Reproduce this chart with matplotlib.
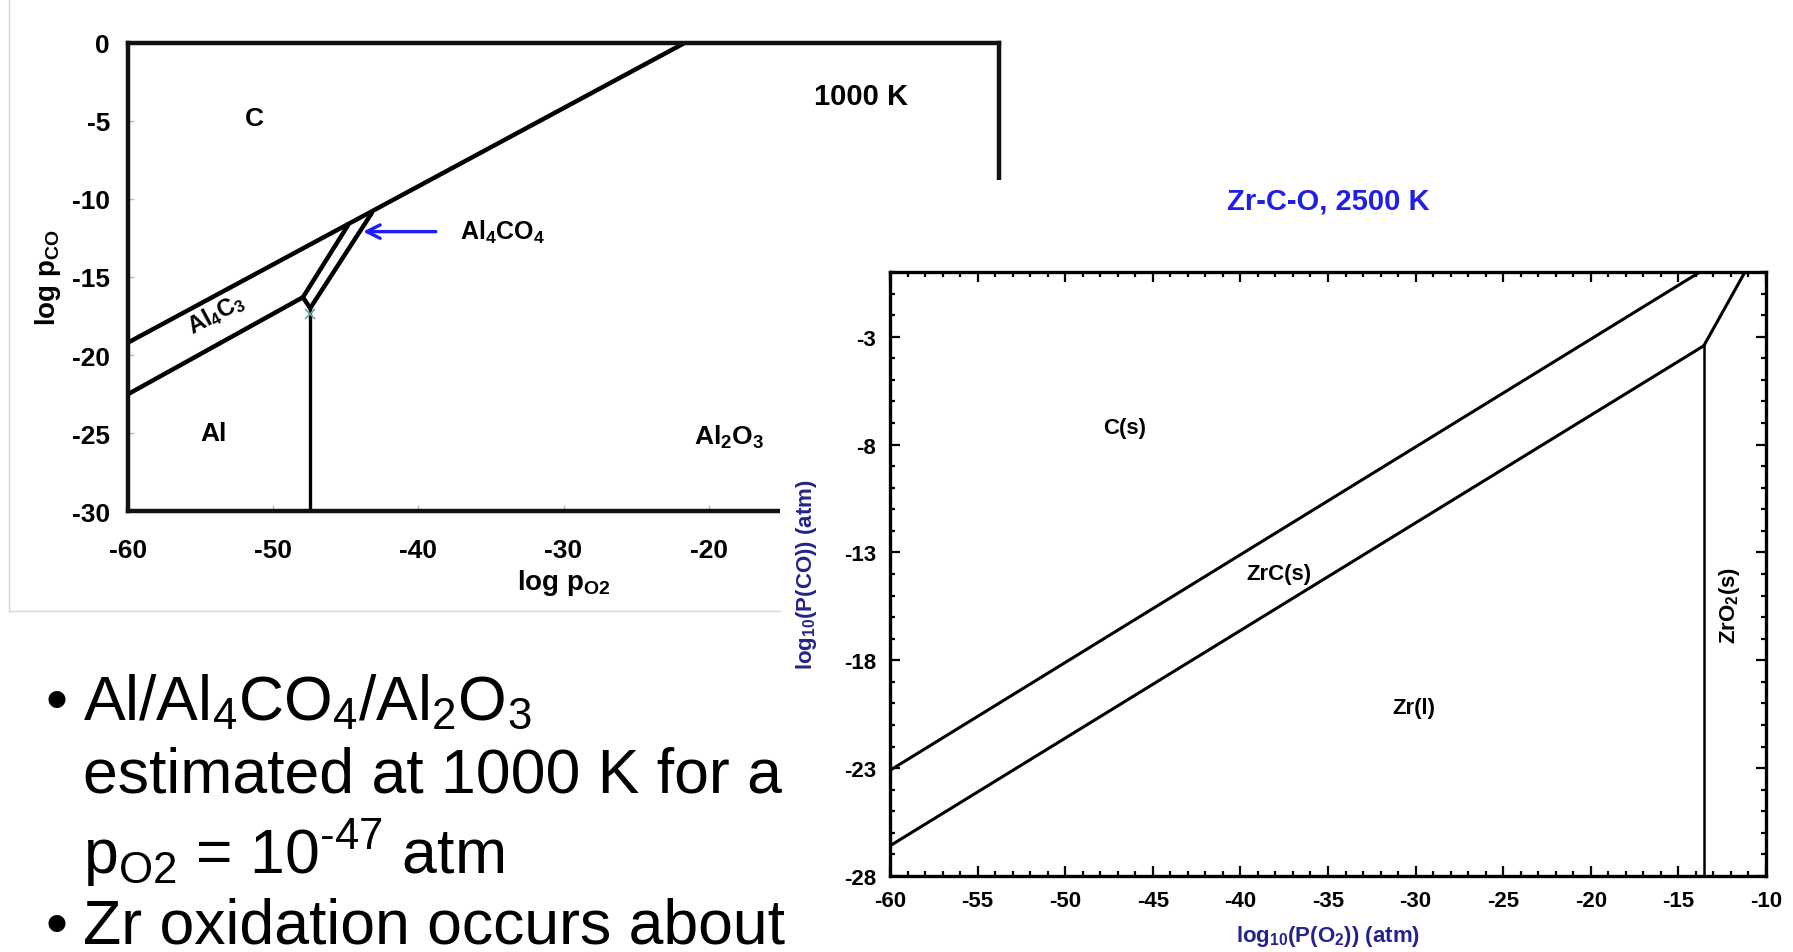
import matplotlib
matplotlib.use("Agg")
import matplotlib.pyplot as plt

# --- left diagram: Al-C-O at 1000 K (log p_O2 vs log p_CO)
al_ticks_x = [-60, -50, -40, -30, -20]
al_ticks_y = [0, -5, -10, -15, -20, -25, -30]
c_al2o3_x = [-60, -21.6]          # C / Al4C3 and C / Al2O3 boundary
c_al2o3_y = [-19.2, 0]
al_al4c3_x = [-60, -47.95]        # Al4C3 / Al boundary
al_al4c3_y = [-22.5, -16.3]
band_left_x = [-47.95, -44.85]    # Al4CO4 band edges
band_left_y = [-16.3, -11.7]
band_right_x = [-47.45, -43.2]
band_right_y = [-17.0, -10.9]
band_foot_x = [-47.95, -47.45]
band_foot_y = [-16.3, -17.0]
al_vert_x = [-47.45, -47.45]      # Al / Al2O3 boundary
al_vert_y = [-17.0, -30]
al_labels = ["C", "Al", "Al$_2$O$_3$"]
al_label_xy = [(-51.3, -4.8), (-54.1, -25.0), (-18.6, -25.2)]

# --- right diagram: Zr-C-O at 2500 K
zr_ticks_x = [-60, -55, -50, -45, -40, -35, -30, -25, -20, -15, -10]
zr_ticks_y = [-3, -8, -13, -18, -23, -28]
zr_upper_x = [-60, -13.77]
zr_upper_y = [-23.1, 0]
zr_lower_x = [-60, -13.55]
zr_lower_y = [-26.6, -3.42]
zr_vert_x = [-13.55, -13.55]
zr_vert_y = [-3.42, -28]
zr_oxide_x = [-13.55, -11.2]
zr_oxide_y = [-3.42, 0]
zr_labels = ["C(s)", "ZrC(s)", "Zr(l)"]
zr_label_xy = [(-46.6, -7.2), (-37.8, -14.0), (-30.1, -20.2)]

W, H = 1793, 953
plt.rcParams["font.family"] = ["Liberation Sans", "DejaVu Sans"]
plt.rcParams["mathtext.default"] = "regular"
plt.rcParams["axes.unicode_minus"] = False


def box(x0, y0, x1, y1):
    # pixel box (top-left origin) -> figure fraction rect
    return [x0 / W, 1 - y1 / H, (x1 - x0) / W, (y1 - y0) / H]


fig = plt.figure(figsize=(W / 100, H / 100), dpi=100)
fig.patch.set_facecolor("white")

# faint border of the pasted left picture
fig.add_artist(plt.Line2D([9 / W, 9 / W], [1, 1 - 612 / H], color="#d8d8d8", lw=1))
fig.add_artist(plt.Line2D([9 / W, 780 / W], [1 - 612 / H, 1 - 612 / H], color="#d8d8d8", lw=1))

fs = 19
ax1 = fig.add_axes(box(128, 43.5, 999, 512.4))
ax1.set_xlim(-60, 0)
ax1.set_ylim(-30, 0)
lw = 3.2
ax1.plot(c_al2o3_x, c_al2o3_y, color="black", lw=lw, solid_capstyle="butt")
ax1.plot(al_al4c3_x, al_al4c3_y, color="black", lw=lw, solid_capstyle="round")
ax1.plot(band_left_x, band_left_y, color="black", lw=lw, solid_capstyle="round")
ax1.plot(band_right_x, band_right_y, color="black", lw=lw, solid_capstyle="round")
ax1.plot(band_foot_x, band_foot_y, color="black", lw=lw, solid_capstyle="round")
ax1.plot(al_vert_x, al_vert_y, color="black", lw=2.4)
ax1.plot([band_right_x[0]], [band_right_y[0] - 0.4], marker="x", ms=7, color="#6aa8a8", mew=1.2)
for s in ax1.spines.values():
    s.set_linewidth(3.2)
    s.set_color("#111111")
ax1.set_xticks(al_ticks_x)
ax1.set_yticks(al_ticks_y)
ax1.tick_params(direction="in", length=4, width=1, color="#bbbbbb")
ax1.tick_params(axis="x", pad=19)
ax1.tick_params(axis="y", pad=13)
for lab in ax1.get_xticklabels() + ax1.get_yticklabels():
    lab.set_fontweight("bold")
    lab.set_fontsize(fs)
ax1.set_xlabel("log p$_{O2}$", fontweight="bold", fontsize=fs + 1, labelpad=4)
ax1.set_ylabel("log p$_{CO}$", fontweight="bold", fontsize=fs + 1, labelpad=6)
for txt, (x, y) in zip(al_labels, al_label_xy):
    ax1.text(x, y, txt, ha="center", va="center", fontweight="bold", fontsize=fs)
ax1.text(-53.9, -17.3, "Al$_4$C$_3$", rotation=28, ha="center", va="center",
         fontweight="bold", fontsize=fs - 2)
ax1.text(-9.5, -3.4, "1000 K", ha="center", va="center", fontweight="bold", fontsize=fs + 2)
ax1.text(-37.1, -12.1, "Al$_4$CO$_4$", ha="left", va="center", fontweight="bold", fontsize=fs - 1)
ax1.annotate("", xy=(-44.0, -12.1), xytext=(-38.6, -12.1),
             arrowprops=dict(arrowstyle="->", color="#1c1cff", lw=2.4, mutation_scale=24))

# white patch of the pasted right picture
cover = fig.add_axes(box(780, 181, W, H))
cover.set_facecolor("white")
cover.set_xticks([])
cover.set_yticks([])
for s in cover.spines.values():
    s.set_visible(False)

ax2 = fig.add_axes(box(890, 273, 1766, 877))
ax2.set_xlim(-60, -10)
ax2.set_ylim(-28, 0)
lw2 = 2.2
ax2.plot(zr_upper_x, zr_upper_y, color="black", lw=lw2)
ax2.plot(zr_lower_x, zr_lower_y, color="black", lw=lw2)
ax2.plot(zr_vert_x, zr_vert_y, color="black", lw=1.8)
ax2.plot(zr_oxide_x, zr_oxide_y, color="black", lw=lw2)
for s in ax2.spines.values():
    s.set_linewidth(2.4)
ax2.set_xticks(zr_ticks_x)
ax2.set_yticks(zr_ticks_y)
ax2.set_xticks(range(-60, -9), minor=True)
ax2.set_yticks(range(-28, 1), minor=True)
ax2.tick_params(which="both", direction="in", top=True, right=True, width=1.6)
ax2.tick_params(which="major", length=7)
ax2.tick_params(which="minor", length=3.5)
ax2.tick_params(axis="x", pad=10)
ax2.tick_params(axis="y", pad=10)
for lab in ax2.get_xticklabels() + ax2.get_yticklabels():
    lab.set_fontweight("bold")
    lab.set_fontsize(16)
ax2.set_title("Zr-C-O, 2500 K", color="#1f1fe6", fontweight="bold", fontsize=21, pad=46)
ax2.set_xlabel("log$_{10}$(P(O$_2$)) (atm)", color="#23238c", fontweight="bold", fontsize=16, labelpad=9)
ax2.set_ylabel("log$_{10}$(P(CO)) (atm)", color="#23238c", fontweight="bold", fontsize=16, labelpad=18)
for txt, (x, y) in zip(zr_labels, zr_label_xy):
    ax2.text(x, y, txt, ha="center", va="center", fontweight="bold", fontsize=16)
ax2.text(-12.1, -15.4, "ZrO$_2$(s)", rotation=90, ha="center", va="center", fontweight="bold", fontsize=16)

# bullet text of the slide
bullets = [
    ("\u2022", "Al/Al$_4$CO$_4$/Al$_2$O$_3$", 720),
    ("", "estimated at 1000 K for a", 793),
    ("", "p$_{O2}$ = 10$^{\u201047}$ atm", 873),
    ("\u2022", "Zr oxidation occurs about", 944),
]
for mark, line, base in bullets:
    if mark:
        fig.text(46 / W, 1 - base / H, mark, fontsize=45, va="baseline", ha="left")
    fig.text(83 / W, 1 - base / H, line, fontsize=45, va="baseline", ha="left")

fig.savefig("out.png", dpi=100, facecolor="white")
